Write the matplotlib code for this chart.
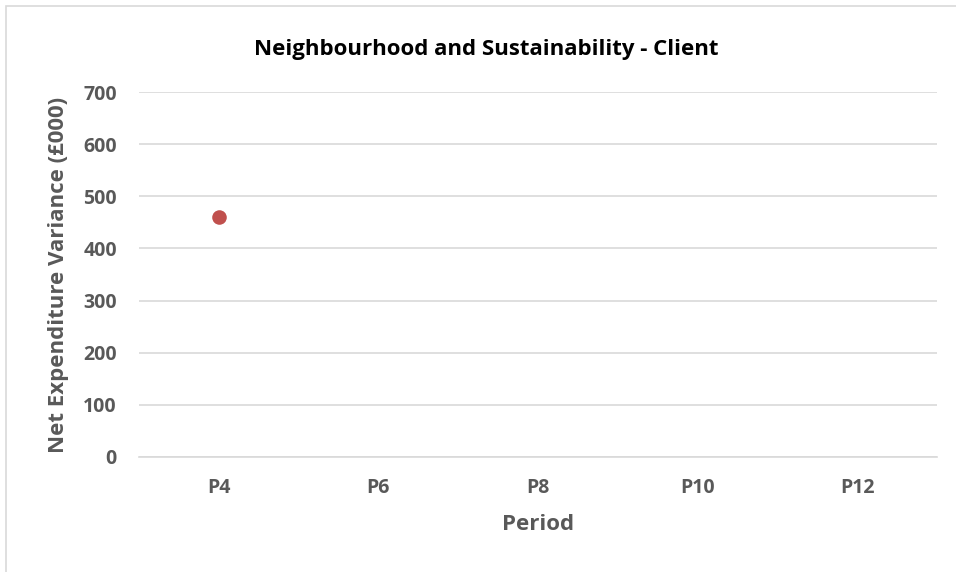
import matplotlib.pyplot as plt
from matplotlib.patches import Rectangle

periods = ["P4", "P6", "P8", "P10", "P12"]
variance = [460, None, None, None, None]
y_ticks = [0, 100, 200, 300, 400, 500, 600, 700]

plt.rcParams['font.family'] = ['Open Sans', 'DejaVu Sans']
grey = '#595959'

fig = plt.figure(figsize=(9.56, 5.72), dpi=100)
W, H = 956, 572
ax = fig.add_axes([139 / W, 1 - 457 / H, (937 - 139) / W, (457 - 92) / H])

# chart-area outline
fig.patches.append(Rectangle((6 / W, -0.1), 1.2, 1 - 6 / H + 0.1, transform=fig.transFigure,
                             fill=False, edgecolor='#d9d9d9', linewidth=1.2))

xs = [i for i, v in enumerate(variance) if v is not None]
ys = [v for v in variance if v is not None]
ax.scatter(xs, ys, s=110, color='#C0504D', zorder=3, linewidths=0)

ax.set_xlim(-0.5, len(periods) - 0.5)
ax.set_ylim(0, 700)
ax.set_xticks(range(len(periods)))
ax.set_xticklabels(periods)
ax.set_yticks(y_ticks)
ax.yaxis.grid(True, color='#d9d9d9', linewidth=1.2)
ax.set_axisbelow(True)
for s in ax.spines.values():
    s.set_visible(False)
ax.spines['bottom'].set_visible(True)
ax.spines['bottom'].set_color('#d9d9d9')
ax.spines['bottom'].set_linewidth(1.2)
ax.tick_params(length=0, colors=grey, labelsize=14)
for lbl in ax.get_xticklabels() + ax.get_yticklabels():
    lbl.set_fontweight('bold')
ax.tick_params(axis='y', pad=16)
ax.tick_params(axis='x', pad=15)

ax.set_xlabel('Period', fontsize=16, fontweight='bold', color=grey, labelpad=12)
ax.set_ylabel('Net Expenditure Variance (£000)', fontsize=16, fontweight='bold', color=grey, labelpad=10)
fig.text(486 / W, 1 - 50 / H, 'Neighbourhood and Sustainability - Client',
         ha='center', va='center', fontsize=16, fontweight='bold', color='black')

fig.savefig('out.png', dpi=100)
